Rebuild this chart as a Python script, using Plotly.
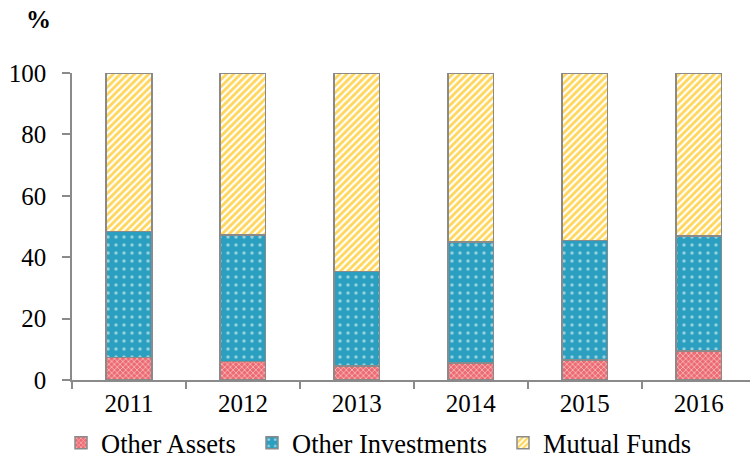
import plotly.graph_objects as go

years = ["2011", "2012", "2013", "2014", "2015", "2016"]
other_assets = [7.3, 6.0, 4.6, 5.6, 6.5, 9.5]
other_investments = [41.0, 41.3, 30.7, 39.4, 38.9, 37.4]
mutual_funds = [51.7, 52.7, 64.7, 55.0, 54.6, 53.1]

FONT = "Liberation Serif, Times New Roman, serif"
FS = 25
LFS = 26.5
GREY = "#8a8a8a"
edge = dict(color=GREY, width=1.5)
W, H = 750, 458

fig = go.Figure()
fig.add_trace(go.Bar(
    x=years, y=other_assets, name="Other Assets", width=0.4, legend="legend",
    marker=dict(color="#EC6B72", line=edge,
                pattern=dict(shape="x", fgcolor="white", bgcolor="#EC6B72",
                             size=4, solidity=0.4, fillmode="overlay"))))
fig.add_trace(go.Bar(
    x=years, y=other_investments, name="Other Investments", width=0.4, legend="legend2",
    marker=dict(color="#2A9FBF", line=edge,
                pattern=dict(shape=".", fgcolor="white", bgcolor="#2A9FBF",
                             size=8, solidity=0.15, fillmode="overlay"))))
fig.add_trace(go.Bar(
    x=years, y=mutual_funds, name="Mutual Funds", width=0.4, legend="legend3",
    marker=dict(color="white", line=edge,
                pattern=dict(shape="/", fgcolor="#FFD659", bgcolor="white",
                             size=5, solidity=0.55, fillmode="replace"))))


def leg(text_left_px):
    return dict(orientation="h", xref="container", yref="container",
                x=(text_left_px - 40) / W, xanchor="left",
                y=1 - 443 / H, yanchor="middle",
                font=dict(family=FONT, size=LFS), bgcolor="rgba(0,0,0,0)")


fig.update_layout(
    barmode="stack",
    width=W, height=H,
    margin=dict(l=72, r=0, t=73, b=78, autoexpand=False),
    plot_bgcolor="white", paper_bgcolor="white",
    font=dict(family=FONT, size=FS, color="black"),
    showlegend=True,
    legend=leg(101), legend2=leg(292), legend3=leg(543),
    xaxis=dict(range=[-0.5, 5.45], showline=True, linecolor=GREY, linewidth=1.5,
               ticks="outside", tickson="boundaries", ticklen=7, tickcolor=GREY,
               tickwidth=1.5, showgrid=False, tickfont=dict(family=FONT, size=FS)),
    yaxis=dict(range=[0, 100], tickvals=[0, 20, 40, 60, 80, 100], showline=True,
               linecolor=GREY, linewidth=1.5, ticks="outside", ticklen=8,
               tickcolor=GREY, tickwidth=1.5, showgrid=False, zeroline=False,
               ticklabelstandoff=11, tickfont=dict(family=FONT, size=FS)),
    annotations=[dict(text="<b>%</b>", xref="paper", yref="paper",
                      x=-34/678, y=1 + 53/307, xanchor="center",
                      yanchor="middle", showarrow=False,
                      font=dict(family=FONT, size=FS))],
)
fig.write_html("out.html", config={"displayModeBar": False},
               post_script="document.body.style.margin='0';")
